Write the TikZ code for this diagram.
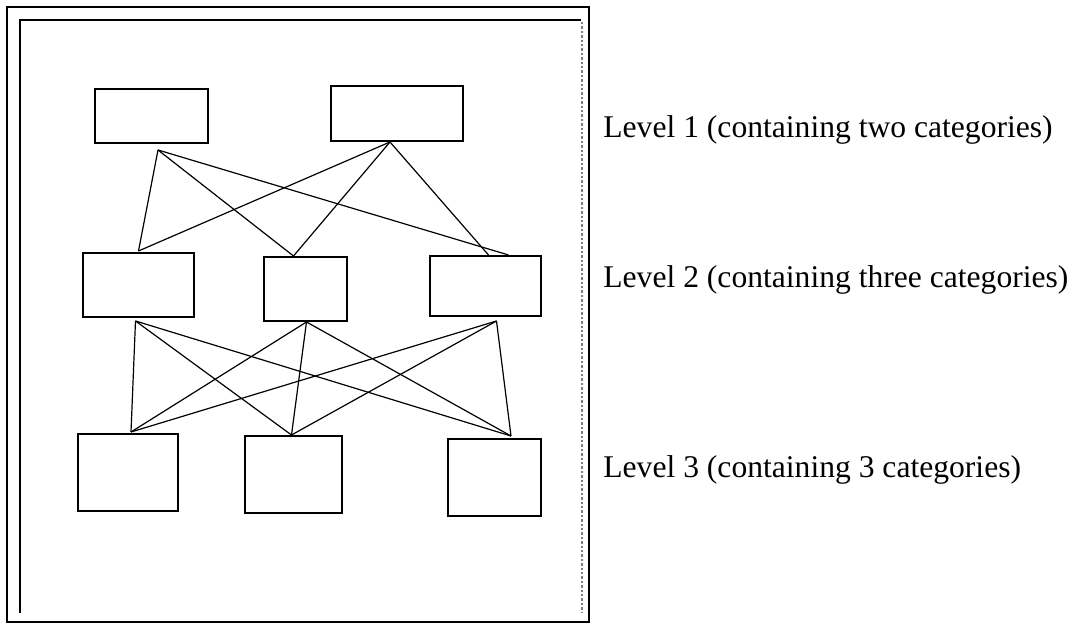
\documentclass[tikz,border=0pt]{standalone}
\usepackage{fontspec}
\setmainfont{Liberation Serif}
\usepackage{tikz}
\usetikzlibrary{calc}
\tikzset{
    hierarchy/.style={
            x=0.5pt,y=-0.5pt,
            cat/.style={draw, line width=1pt, inner sep=0pt},
            link/.style={line width=0.6pt},
            levtext/.style={anchor=base west, inner sep=0pt, font=\fontsize{15.8}{19}\selectfont}
        }
    }

\begin{document}
\begin{tikzpicture}[hierarchy]
    \useasboundingbox (0,0) rectangle (1078,624);
    \draw [line width=1.1pt] (7,7) rectangle (589,622);
    \draw [line width=0.9pt] (20,613) -- (20,20) -- (581,20);
    \draw [line width=1.2pt, gray, densely dotted] (582,22) -- (582,612);

    \node [cat, minimum width=56.5pt, minimum height=27pt] (A1) at (151.5,116) {};
    \node [cat, minimum width=66pt, minimum height=27.5pt] (A2) at (397,113.5) {};

    \node [cat, minimum width=55.5pt, minimum height=32pt] (B1) at (138.5,285) {};
    \node [cat, minimum width=41.5pt, minimum height=32pt] (B2) at (305.5,289) {};
    \node [cat, minimum width=55.5pt, minimum height=30pt] (B3) at (485.5,286) {};

    \node [cat, minimum width=50pt, minimum height=38.5pt] (C1) at (128,472.5) {};
    \node [cat, minimum width=48.5pt, minimum height=38.5pt] (C2) at (293.5,474.5) {};
    \node [cat, minimum width=46.5pt, minimum height=38.5pt] (C3) at (494,477.5) {};

    \coordinate (a1) at ($(A1.south)+(6.5,6)$);
    \coordinate (a2) at ($(A2.south)+(-7,0)$);
    \coordinate (b1) at ($(B1.north)+(0,-1)$);
    \coordinate (b2) at ($(B2.north)+(-12,0)$);
    \coordinate (b3) at ($(B3.north)+(23,0)$);
    \coordinate (b3l) at ($(B3.north)+(3,0)$);
    \coordinate (b1s) at ($(B1.south)+(-3,3)$);
    \coordinate (b2s) at ($(B2.south)+(1,0)$);
    \coordinate (b3s) at ($(B3.south)+(11,4)$);
    \coordinate (c1) at ($(C1.north)+(3,-1)$);
    \coordinate (c2) at ($(C2.north)+(-2,0)$);
    \coordinate (c3) at ($(C3.north)+(17,-2)$);

    \foreach \t in {b1,b2,b3} \draw [link] (a1) -- (\t);
    \foreach \t in {b1,b2,b3l} \draw [link] (a2) -- (\t);
    \foreach \s in {b1s,b2s,b3s}
        \foreach \t in {c1,c2,c3} \draw [link] (\s) -- (\t);

    \node [levtext] (T1) at (603,138) {Level 1 (containing two categories)};
    \node [levtext] (T2) at (603,288) {Level 2 (containing three categories)};
    \node [levtext] (T3) at (603,478) {Level 3 (containing 3 categories)};
\end{tikzpicture}
\end{document}
